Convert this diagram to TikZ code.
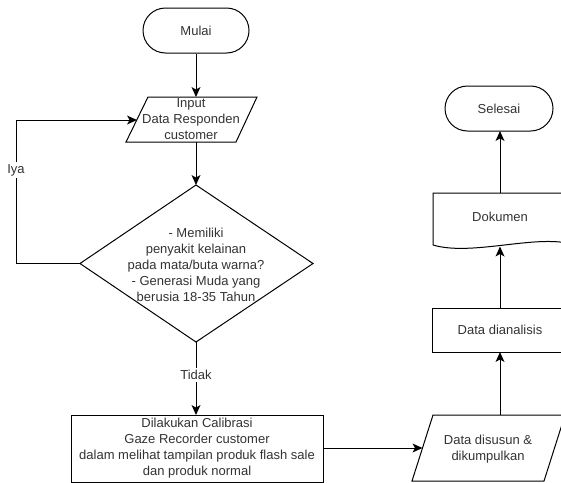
\documentclass[tikz,border=0pt]{standalone}
\usepackage{fontspec}
\setmainfont{Liberation Sans}
\definecolor{txt}{HTML}{333333}
\newcommand\myheaddown[1]{\fill[black] (#1) -- ++(-4.5,10) -- ++(4.5,-2.5) -- ++(4.5,2.5) -- cycle;}
\newcommand\myheadup[1]{\fill[black] (#1) -- ++(-4.5,-10) -- ++(4.5,2.5) -- ++(4.5,-2.5) -- cycle;}
\newcommand\myheadright[1]{\fill[black] (#1) -- ++(-10,4.5) -- ++(2.5,-4.5) -- ++(-2.5,-4.5) -- cycle;}
\begin{document}
\begin{tikzpicture}[x=1pt,y=1pt,line width=1pt,
  font=\fontsize{13}{16}\selectfont,
  lbl/.style={text=txt, align=center, inner sep=0pt},
  shp/.style={draw=black, line width=1pt},
  term/.style={shp, lbl, rounded corners=22.5pt, minimum height=45pt},
  procbox/.style={shp, lbl},
  arr/.style={draw=black, line width=1pt, shorten >=6pt},
  tag/.style={lbl, fill=white, inner sep=2pt}]
\fill[white] (0,0) rectangle (561,-482);
\useasboundingbox (0,0) rectangle (561,-482);

% Mulai
\node[term, minimum width=106pt] (mulai) at (196,-30.5) {Mulai};

% Input parallelogram
\draw[shp] (148,-97) -- (257,-97) -- (236,-142) -- (126,-142) -- cycle;
\node[lbl] (inp) at (191,-119) {Input\\Data Responden\\customer};
\coordinate (inpT) at (196,-97);
\coordinate (inpB) at (196,-142);
\coordinate (inpL) at (137,-120);

% Decision diamond
\draw[shp] (196,-185) -- (313,-263.5) -- (196,-342) -- (80,-263.5) -- cycle;
\node[lbl] (dec) at (196,-264.5) {- Memiliki\\penyakit kelainan\\pada mata/buta warna?\\- Generasi Muda yang\\berusia 18-35 Tahun};
\coordinate (decN) at (196,-185);
\coordinate (decS) at (196,-342);
\coordinate (decW) at (80,-263.5);
\coordinate (loopTop) at (16,-120);

% Calibration process
\node[procbox, minimum width=252pt, minimum height=67pt] (cal) at (197,-448.5) {Dilakukan Calibrasi\\Gaze Recorder customer\\dalam melihat tampilan produk flash sale\\dan produk normal};
\coordinate (calN) at (196,-415);
\coordinate (calE) at (323,-448);

% Data disusun parallelogram
\draw[shp] (433,-415) -- (565,-415) -- (544,-481) -- (412,-481) -- cycle;
\node[lbl] (dsn) at (488,-449) {Data disusun \&\\dikumpulkan};
\coordinate (dsnL) at (422.5,-448);
\coordinate (dsnT) at (500,-415);

% Data dianalisis
\node[procbox, minimum width=136pt, minimum height=44pt] (ana) at (500,-330) {Data dianalisis};
\coordinate (anaS) at (500,-352);
\coordinate (anaN) at (500,-308);

% Dokumen
\draw[shp] (433,-245) -- (433,-193) -- (567,-193) -- (567,-243)
  .. controls (530,-236) and (470,-256) .. (433,-245);
\node[lbl] (dok) at (500,-217) {Dokumen};
\coordinate (dokT) at (500,-193);
\coordinate (dokB) at (500,-246.5);

% Selesai
\node[term, minimum width=108pt] (selesai) at (499,-108.5) {Selesai};
\coordinate (selS) at (500,-131);

% Connectors
\draw[arr] (mulai.south) -- (inpT);
\myheaddown{inpT}
\draw[arr] (inpB) -- (decN);
\myheaddown{decN}
\draw[arr] (decS) -- node[tag, pos=0.45] (tidak) {Tidak} (calN);
\myheaddown{calN}
\draw[arr] (decW) -| (loopTop) -- (inpL);
\myheadright{inpL}
\node[tag] (iya) at (16,-170) {Iya};
\draw[arr] (calE) -- (dsnL);
\myheadright{dsnL}
\draw[arr] (dsnT) -- (anaS);
\myheadup{anaS}
\draw[arr] (anaN) -- (dokB);
\myheadup{dokB}
\draw[arr] (dokT) -- (selS);
\myheadup{selS}
\end{tikzpicture}
\end{document}
